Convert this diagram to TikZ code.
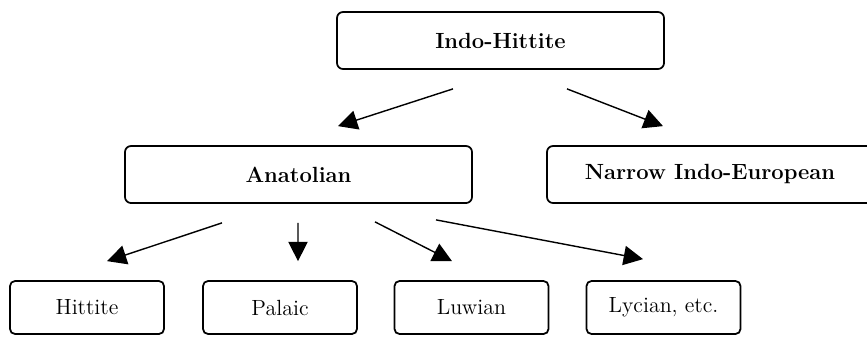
\documentclass[tikz,border=0pt]{standalone}
\usepackage{tikz}
\usetikzlibrary{arrows.meta,calc}

\begin{document}
\begin{tikzpicture}[
   box/.style={draw, line width=1pt, rounded corners=1.2mm, minimum height=1.14cm,
               font=\fontsize{12.5}{14}\selectfont\bfseries},
   leaf/.style={box, minimum width=3.08cm, minimum height=1.06cm, rounded corners=1mm,
                font=\fontsize{12.5}{14}\selectfont},
   arr/.style={-{Triangle[length=11pt,width=11pt]}, line width=0.8pt}]
   \useasboundingbox (0,0) rectangle (17.34,-6.72);
   \clip (0,0) rectangle (17.34,-6.72);

   % root
   \node[box, minimum width=6.54cm] (indo) at (10.01,-0.81) {Indo-Hittite};

   % second level
   \node[box, minimum width=6.94cm] (anat) at (5.97,-3.49) {Anatolian};
   \node[box, minimum width=6.52cm] (narrow) at (14.2,-3.49) {Narrow Indo-European};

   % languages
   \node[leaf] (hitt) at (1.74,-6.15) {Hittite};
   \node[leaf] (pala) at (5.6,-6.15) {Palaic};
   \node[leaf] (luwi) at (9.43,-6.15) {Luwian};
   \node[leaf] (lyci) at (13.27,-6.15) {Lycian, etc.};

   \draw[arr] ($(indo.south)+(-0.95,-0.38)$) -- ($(anat.north)+(0.79,0.38)$);
   \draw[arr] ($(indo.south)+(1.33,-0.38)$) -- ($(narrow.north)+(-0.94,0.38)$);

   \draw[arr] ($(anat.south)+(-1.53,-0.38)$) -- ($(hitt.north)+(0.40,0.38)$);
   \draw[arr] ($(anat.south)+(-0.01,-0.38)$) -- ($(pala.north)+(0.36,0.38)$);
   \draw[arr] ($(anat.south)+(1.53,-0.36)$) -- ($(luwi.north)+(-0.39,0.38)$);
   \draw[arr] ($(anat.south)+(2.75,-0.32)$) -- ($(lyci.north)+(-0.41,0.42)$);
\end{tikzpicture}
\end{document}
